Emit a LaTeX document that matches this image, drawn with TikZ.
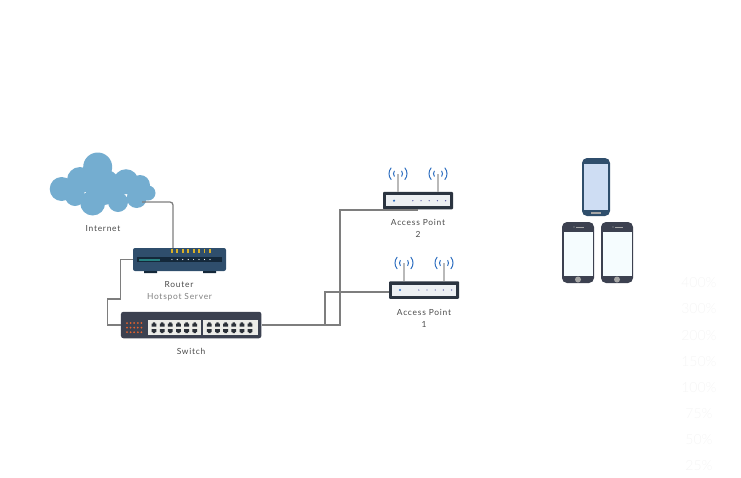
\documentclass[tikz,border=0pt]{standalone}
\usepackage{fontspec}
\setmainfont[LetterSpace=9]{Lato}
\newfontfamily\faintfont{Lato Light}
\definecolor{cloudc}{HTML}{74ADD0}
\definecolor{wirec}{HTML}{7E7E7E}
\definecolor{routerc}{HTML}{2F4E6C}
\definecolor{routerd}{HTML}{14283A}
\definecolor{switchc}{HTML}{3C4150}
\definecolor{panelc}{HTML}{ECECE8}
\definecolor{portc}{HTML}{2B3038}
\definecolor{orangec}{HTML}{E8622C}
\definecolor{apc}{HTML}{2B3440}
\definecolor{apin}{HTML}{ECEFF2}
\definecolor{wavec}{HTML}{2F6FC0}
\definecolor{labelc}{HTML}{4A4A4A}
\definecolor{faintc}{HTML}{F5F5F5}
\tikzset{
  wire/.style={draw=wirec,line width=1.3pt},
  antenna/.style={draw=gray!55,line width=1.3pt},
  wave/.style={draw=wavec,line width=1pt,line cap=round},
  lbl/.style={font=\fontsize{8.4}{10}\selectfont,text=labelc,inner sep=0pt,align=center},
  faint/.style={font=\faintfont\fontsize{14}{16}\selectfont,text=faintc,inner sep=0pt},
  box/.style={rectangle,inner sep=0pt,minimum width=#1},
  apbox/.style={box=70,minimum height=17.5,fill=apc,rounded corners=1pt},
  wifi/.pic={
    \draw[wave] (0,0) ++(140:9) arc (140:220:9);
    \draw[wave] (0,0) ++(40:9) arc (40:-40:9);
    \draw[wave] (0,0) ++(145:4.5) arc (145:215:4.5);
    \draw[wave] (0,0) ++(35:4.5) arc (35:-35:4.5);
  },
  apdetail/.pic={
    \fill[apin] (-32,-5.5) rectangle (32,5.5);
    \fill[wavec] (-24,0) circle (1.2);
    \foreach \k in {0,...,4} \fill[gray!70!blue] (-5.2+\k*8.2,0) circle (0.7);
    \draw[antenna] (-20,-8.7) -- (-20,-27);
    \draw[antenna] (20,-8.7) -- (20,-27);
    \pic at (-20,-27) {wifi};
    \pic at (20,-27) {wifi};
  },
  iphone/.pic={
    \fill[switchc,rounded corners=5pt] (-16,-30.5) rectangle (16,30.5);
    \fill[white!90!cyan!40] (-14.5,-21) rectangle (14.5,23.5);
    \fill[gray!70] (0,27) circle (3);
    \draw[gray!70,line width=.7pt] (-2,-25.5) -- (6,-25.5);
    \fill[gray!70] (-4,-25.5) circle (.7);
  }
}
\begin{document}
\begin{tikzpicture}[x=1pt,y=-1pt]
\useasboundingbox (0,0) rectangle (741,477);
% cloud
\fill[cloudc]
  (97.7,167) circle (14.5)
  (61.7,189) circle (12)
  (80,180) circle (13)
  (126,181.7) circle (12.5)
  (140,185) circle (10)
  (148,193) circle (7.5)
  (92.7,203) circle (12.5)
  (118,202) circle (10)
  (136.7,198) circle (10)
  (75,196) circle (10)
  (103,187) circle (18);
\coordinate (cloudend) at (142,202);
\node[lbl] (internet) at (103,229) {Internet};
% wires behind devices
\node[box=93,minimum height=23,fill=routerc,rounded corners=2pt] (router) at (179.5,259.5) {};
\node[box=140.5,minimum height=26.5,fill=switchc,rounded corners=2.5pt] (switch) at (191.2,325) {};
\node[apbox] (ap2) at (418,200.7) {};
\node[apbox] (ap1) at (424,290) {};
\draw[wire,rounded corners=3pt] (cloudend) -- (173,202) -- (173,248);
\coordinate (r1) at (120.5,299);
\draw[wire] (router.west) -- (r1 |- router.west) -- (r1) -- (107.5,299) -- (107.5,325) -- (switch.west);
\draw[wire] (switch.east) -- (340,325) -- (340,210) -- (418,210);
\draw[wire] (325,325) -- (325,292) -- (ap1.west |- 0,292);
% router details
\fill[routerd] (137,257) rectangle (222,262);
\fill[teal!70!gray] (139,258.5) rectangle (160,260.5);
\fill[routerd] (144,271) rectangle (157,273) (203,271) rectangle (216,273);
\foreach \k in {0,...,7} {
  \fill[orange!45!yellow!70!gray] (171+\k*5.43,249) rectangle +(1.8,4);
  \fill[white] (171.9+\k*5.43,259.5) circle (.6);
}
\node[lbl] (rlabel) at (179,285) {Router};
\node[lbl,text=gray] (hlabel) at (179.5,297) {Hotspot Server};
% switch details
\foreach \c in {0,...,4}\foreach \r in {0,1,2}
  \fill[orangec] (127+\c*3.6,323+\r*4.6) circle (1);
\fill[panelc] (148,320) rectangle (201,335);
\fill[panelc] (203,320) rectangle (258,335);
\foreach \s in {154,209.3} \foreach \k in {0,...,5} {
  \fill[portc] (\s+\k*8.15-2.4,323.5) rectangle +(4.8,3) (\s+\k*8.15-1.2,322.3) rectangle +(2.4,1.5);
  \fill[portc] (\s+\k*8.15-2.4,329) rectangle +(4.8,3) (\s+\k*8.15-1.2,331.7) rectangle +(2.4,1.5);
}
\node[lbl] (swlabel) at (191,351) {Switch};
% access points
\pic at (ap2.center) {apdetail};
\pic at (ap1.center) {apdetail};
\node[lbl] (ap2l) at (418,222) {Access Point};
\node[lbl] (ap2n) at (418,234) {2};
\node[lbl] (ap1l) at (424,312) {Access Point};
\node[lbl] (ap1n) at (424,324) {1};
% phones
\fill[routerc,rounded corners=5pt] (582,158) rectangle (610,216);
\fill[cyan!12!white!92!blue] (584,164) rectangle (608,210);
\fill[gray!70] (591,212) rectangle (601,214);
\pic at (578,252.5) {iphone};
\pic at (617,252.5) {iphone};
% faint zoom list
\foreach \t/\yy in {400\%/283,300\%/309,200\%/336,150\%/362,100\%/388,75\%/414,50\%/440,25\%/466}
  \node[faint] at (699,\yy) {\t};
\end{tikzpicture}
\end{document}
